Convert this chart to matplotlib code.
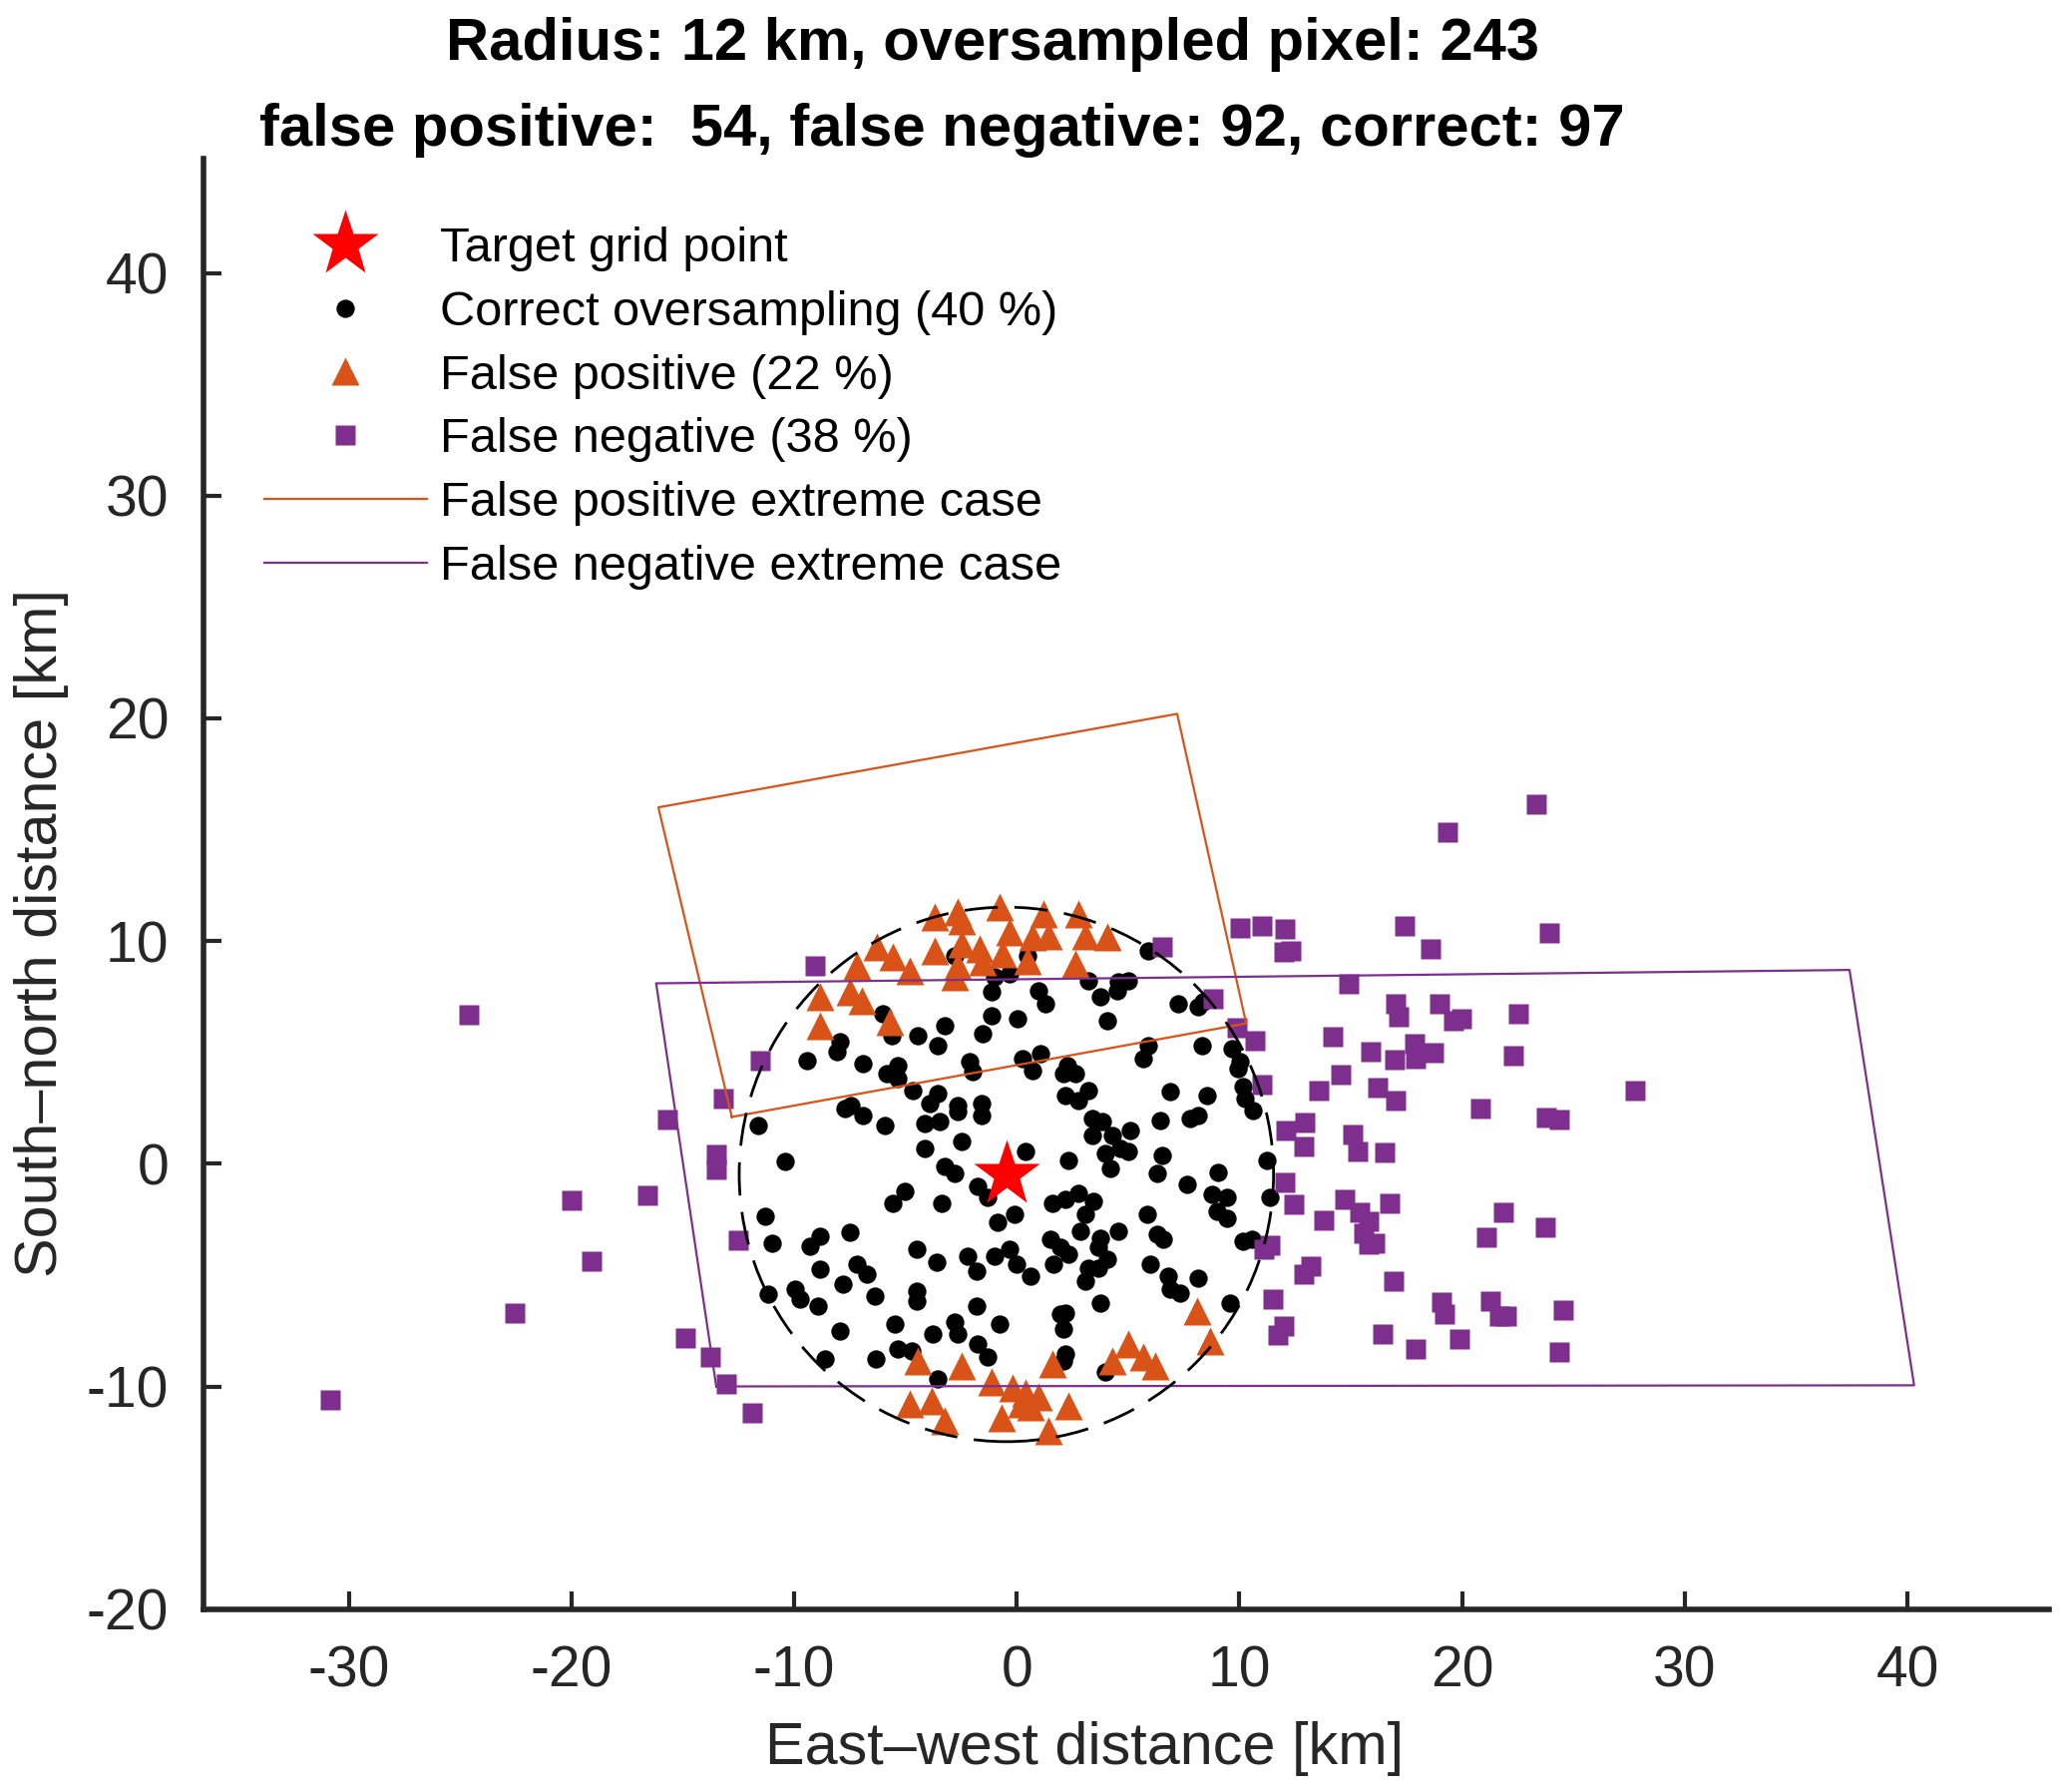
import matplotlib
matplotlib.use("Agg")
import matplotlib.pyplot as plt
from matplotlib.patches import Circle
from matplotlib.lines import Line2D

plt.rcParams['font.family'] = ['Liberation Sans', 'DejaVu Sans']
plt.rcParams['axes.unicode_minus'] = False

# target grid point and search radius
target = (-0.47, -0.48)
radius = 12

# correct oversampling (black dots)
correct_x = [-2.80, -1.15, -1.00, -0.33, -1.15, 0.04, -1.53, -3.24, -4.44, -3.54,
             -6.01, -5.63, -7.95, -8.10, -9.44, -6.90, -5.86, -5.33, -5.33, -4.66,
             -3.54, -3.92, -2.65, -2.65, -1.60, -1.60, -2.12, -1.97, 0.27, -7.72,
             -7.43, -6.90, -5.93, -4.14, -3.47, -2.50, -4.14, -11.61, -10.41, -3.24,
             -2.80,
             0.47, 0.99, 1.29, 3.23, 3.75, 4.05, 4.57, 5.02, 4.50, 5.92,
             7.26, 8.16, 8.38, 8.31, 9.65, 10.02, 9.95, 10.17, 10.25, 10.62,
             5.92, 5.69, 1.06, 0.69, 2.26, 2.11, 2.63, 2.18, 2.78, 3.23,
             3.38, 3.83, 3.38, 4.27, 5.10, 4.65, 5.02, 3.98, 2.33, 0.39,
             6.44, 6.51, 8.53, 6.89, 7.78, 8.16, 11.22, 4.20, 6.29, 9.05,
             -1.75, -5.04, -5.56, -3.39, -1.30, -0.85, -0.11, -11.31, -11.01, -9.29,
             -8.84, -7.50, -4.51, -3.62, -2.20, -1.82, -1.00, -0.33, -0.03, -8.84,
             -7.20, -6.75, -7.80, -11.16, -9.96, -9.74, -8.92, -6.38, -4.51, -4.51,
             -1.82, -5.48, -3.77, -2.80, -2.65, -0.78, -7.95, -5.33, -4.74, -1.75,
             -1.30, -8.62, -6.31, -3.54,
             7.63, 8.75, 9.43, 8.98, 9.43, 1.59, 2.18, 2.78, 3.45, 3.08,
             5.84, 6.29, 6.59, 4.57, 2.86, 1.51, 1.96, 2.33, 3.75, 3.68,
             4.05, 3.23, 3.68, 3.08, 1.66, 0.62, 5.99, 6.81, 6.89, 7.34,
             8.16, 10.17, 10.55, 11.37, 3.75, 9.58, 1.96, 2.18, 2.11, 2.18,
             2.11, 3.98]
correct_y = [9.35, 7.70, 8.38, 8.52, 6.66, 6.51, 5.84, 6.21, 5.76, 5.31,
             6.73, 5.76, 5.46, 5.02, 4.64, 4.49, 4.04, 4.42, 3.82, 3.30,
             3.15, 2.70, 2.63, 2.33, 2.70, 2.18, 4.57, 4.12, 4.72, 2.48,
             2.63, 2.18, 1.73, 1.80, 1.88, 0.98, 0.68, 1.73, 0.09, -0.14,
             -0.44,
             9.35, 7.78, 7.18, 8.23, 7.48, 6.43, 8.15, 8.23, 7.78, 9.57,
             7.18, 7.03, 7.26, 5.31, 5.16, 4.57, 4.27, 3.45, 2.92, 2.40,
             5.31, 4.72, 4.94, 4.19, 4.42, 4.04, 4.04, 3.07, 2.85, 3.30,
             2.03, 1.88, 1.28, 1.28, 1.51, 0.68, 0.53, 0.46, 0.16, 0.53,
             1.95, 0.39, 3.07, 3.22, 2.03, 2.18, 0.16, -0.21, -0.44, -0.37,
             -1.01, -1.23, -1.76, -1.76, -1.53, -2.65, -2.28, -2.35, -3.55, -3.70,
             -3.25, -3.10, -3.85, -4.44, -4.15, -4.82, -4.15, -3.85, -4.52, -4.74,
             -4.52, -4.97, -5.42, -5.86, -5.64, -6.09, -6.39, -5.94, -5.71, -6.16,
             -6.39, -7.21, -7.66, -7.13, -7.66, -7.21, -7.51, -8.33, -8.40, -8.10,
             -8.70, -8.78, -8.78, -9.67,
             -0.94, -1.38, -1.53, -2.13, -2.43, -1.76, -1.61, -1.31, -1.68, -2.28,
             -2.28, -3.18, -3.40, -3.03, -3.03, -3.40, -3.77, -4.07, -3.33, -3.77,
             -4.30, -4.67, -4.67, -5.27, -4.52, -5.04, -4.52, -5.04, -5.64, -5.79,
             -5.12, -3.47, -3.40, -1.53, -6.24, -6.24, -6.76, -6.69, -7.43, -8.55,
             -8.85, -9.37]

# false positive (orange triangles)
fp_x = [-3.69, -2.65, -2.50, -0.78, -0.33, -3.69, -2.50, -1.68, -2.65, -2.80,
        -1.53, -0.63, -6.30, -5.56, -4.81, -7.20, -8.84, -7.50, -6.98, -8.84,
        -5.71, 1.21, 2.78, 0.69, 1.44, 3.08, 4.05, 0.47, 2.63,
        -4.44, -2.50, -4.81, -3.84, -3.24, -1.15, -0.18, -0.70, 0.19,
        8.08, 8.68, 5.02, 4.27, 5.69, 6.22, 1.59, 0.39, 0.99, 2.33, 1.44, 0.62]
fp_y = [11.06, 11.29, 10.91, 11.51, 10.39, 9.57, 9.87, 9.64, 8.90, 8.38,
        9.05, 9.42, 9.72, 9.27, 8.67, 8.90, 7.48, 7.70, 7.33, 6.21,
        6.36, 11.21, 11.21, 10.17, 10.24, 10.24, 10.17, 9.12, 8.97,
        -8.85, -9.07, -10.79, -10.64, -11.54, -9.82, -10.05, -11.39, -10.79,
        -6.61, -7.95, -8.10, -8.85, -8.70, -9.07, -9.00, -10.27, -10.49, -10.87, -11.99, -10.94]

# false negative (purple squares)
fn_x = [-24.61, -11.55, -13.19, -15.68, -13.49, -13.49, -19.98, -16.58, -12.52, -19.09,
        -22.57, -14.91, -13.79, -13.07, -11.89, -30.86, -9.07, 6.52, 8.83,
        23.33, 19.34, 10.04, 11.01, 12.03, 11.98, 12.31, 17.40, 18.60, 23.93,
        14.89, 17.03, 17.16, 18.97, 19.63, 19.97, 22.51, 9.90, 10.71, 14.18,
        15.88, 16.97, 17.85, 17.91, 18.73, 22.31, 11.01, 14.55, 13.56, 16.21,
        17.01, 20.81, 23.78, 24.38, 27.78, 12.10, 12.95, 12.91, 15.10, 15.30,
        16.53, 12.03, 12.43, 13.80, 14.71, 15.42, 15.79, 15.56, 16.09, 15.79,
        16.76, 21.84, 21.09, 23.75, 11.35, 11.11, 13.20, 12.88, 16.94, 11.50,
        11.98, 11.73, 16.45, 17.92, 19.07, 19.19, 21.27, 21.69, 21.99, 24.56,
        19.90, 24.38]
fn_y = [6.71, 4.62, 2.94, 2.00, 0.43, -0.24, -1.63, -1.40, -3.45, -4.39,
        -6.70, -7.81, -8.70, -9.90, -11.18, -10.59, 8.90, 9.72, 7.40,
        16.14, 14.91, 10.60, 10.68, 10.56, 9.50, 9.54, 10.68, 9.63, 10.38,
        8.08, 7.16, 6.60, 7.16, 6.42, 6.49, 6.72, 6.10, 5.53, 5.72,
        5.03, 4.68, 5.40, 4.70, 5.00, 4.87, 3.55, 3.99, 3.27, 3.43,
        2.83, 2.50, 2.06, 2.00, 3.29, 1.48, 1.85, 0.79, 1.32, 0.56,
        0.51, -0.85, -1.82, -2.52, -1.59, -2.17, -2.57, -3.14, -3.58, -3.63,
        -1.78, -2.20, -3.28, -2.84, -3.66, -3.84, -4.58, -4.98, -5.27, -6.08,
        -7.31, -7.68, -7.63, -8.30, -6.22, -6.75, -6.18, -6.83, -6.83, -6.59,
        -7.89, -8.45]

# extreme case footprints (closed polygons)
fp_box_x = [-12.8, 10.3, 7.2, -16.1, -12.8]
fp_box_y = [2.1, 6.3, 20.2, 16.0, 2.1]
fn_box_x = [-13.5, 40.3, 37.4, -16.2, -13.5]
fn_box_y = [-10.0, -9.95, 8.7, 8.1, -10.0]

orange = '#D95319'
purple = '#7E2F8E'
axcol = '#262626'

W, H = 2067, 1796
fig = plt.figure(figsize=(W / 200, H / 200), dpi=200)
ax = fig.add_axes([204 / W, 1 - 1612.7 / H, 1850 / W, 1453.7 / H])

ax.plot(correct_x, correct_y, 'o', color='black', ms=6.6, mec='none', zorder=2)
ax.plot(fp_x, fp_y, '^', color=orange, ms=10, mec='none', zorder=3)
ax.plot(fn_x, fn_y, 's', color=purple, ms=7.2, mec='none', zorder=3)
ax.plot(target[0], target[1], '*', color='red', ms=25, mec='none', zorder=4)

ax.plot(fp_box_x, fp_box_y, '-', color=orange, lw=0.8, zorder=5)
ax.plot(fn_box_x, fn_box_y, '-', color=purple, lw=0.8, zorder=5)
ax.add_patch(Circle(target, radius, fill=False, ec='black', lw=1.0,
                    ls=(0, (12, 6)), zorder=5))

ax.set_xlim(-36.53, 46.36)
ax.set_ylim(-20, 45.13)
ax.set_xticks(range(-30, 41, 10))
ax.set_yticks(range(-20, 41, 10))
ax.tick_params(direction='in', length=6.5, width=1.5, labelsize=20.5, colors=axcol)
ax.tick_params(axis='x', pad=13)
ax.tick_params(axis='y', pad=12.5)
for s in ['top', 'right']:
    ax.spines[s].set_visible(False)
for s in ['left', 'bottom']:
    ax.spines[s].set_linewidth(2)
    ax.spines[s].set_color(axcol)

fig.text(1087 / W, 1 - 1752 / H, 'East–west distance [km]', ha='center', va='center',
         fontsize=21.4, color=axcol)
fig.text(42 / W, 1 - 935 / H, 'South–north distance [km]', ha='center', va='center',
         rotation=90, fontsize=21.4, color=axcol)

fig.text(995 / W, 1 - 44 / H, 'Radius: 12 km, oversampled pixel: 243', ha='center',
         va='center', fontsize=21.5, fontweight='bold')
fig.text(944 / W, 1 - 130 / H, 'false positive:  54, false negative: 92, correct: 97',
         ha='center', va='center', fontsize=21.5, fontweight='bold')

handles = [
    Line2D([], [], ls='none', marker='*', color='red', ms=25, mec='none'),
    Line2D([], [], ls='none', marker='o', color='black', ms=6.6, mec='none'),
    Line2D([], [], ls='none', marker='^', color=orange, ms=10, mec='none'),
    Line2D([], [], ls='none', marker='s', color=purple, ms=7.2, mec='none'),
    Line2D([], [], color=orange, lw=0.8),
    Line2D([], [], color=purple, lw=0.8),
]
labels = ['Target grid point', 'Correct oversampling (40 %)', 'False positive (22 %)',
          'False negative (38 %)', 'False positive extreme case',
          'False negative extreme case']
ax.legend(handles, labels, loc='upper left', bbox_to_anchor=(265 / W, 1 - 227 / H),
          bbox_transform=fig.transFigure, frameon=False, fontsize=17.55,
          handlelength=3.34, handletextpad=0.27, labelspacing=0.385,
          borderpad=0, borderaxespad=0)

fig.savefig('out.png', dpi=200)
